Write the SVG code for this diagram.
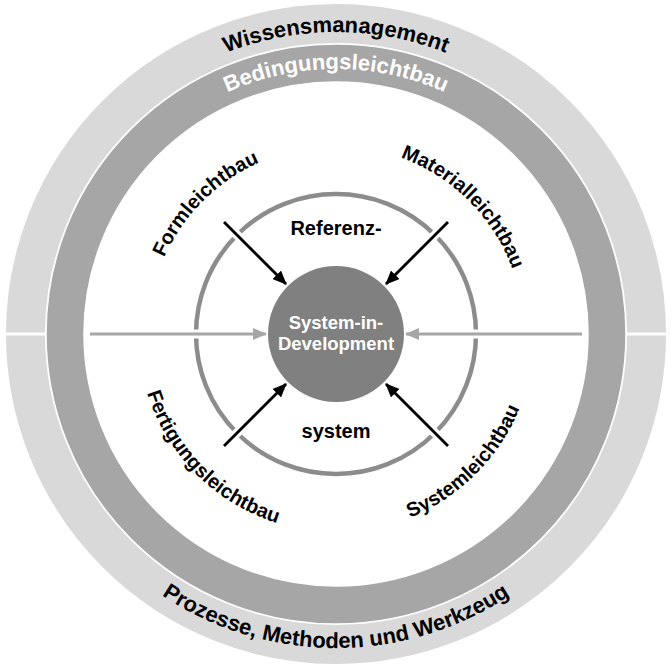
<svg xmlns="http://www.w3.org/2000/svg" width="672" height="669" viewBox="0 0 672 669">
<style>
text{font-family:"Liberation Sans",Arial,sans-serif;font-weight:bold;}
.blk{fill:#000;}
.wht{fill:#fff;}
.ring-label{font-size:22px;}
.diag{font-size:20px;fill:#000;}
.mid{text-anchor:middle;}
.arrow-black{stroke:#000;stroke-width:2.8;fill:none;}
.arrow-gray{stroke:#a6a6a6;stroke-width:3;fill:none;}
.halo{stroke:#fff;stroke-width:9;fill:none;}
</style>
<defs>
<marker id="hb" markerUnits="userSpaceOnUse" markerWidth="14" markerHeight="12" refX="13" refY="6" orient="auto"><path d="M0,0 L14,6 L0,12 Z" fill="#000"/></marker>
<marker id="hg" markerUnits="userSpaceOnUse" markerWidth="14" markerHeight="12" refX="13" refY="6" orient="auto"><path d="M0,0 L14,6 L0,12 Z" fill="#a6a6a6"/></marker>
<path id="p-wm" d="M34,334 A302,302 0 0 1 638,334"/>
<path id="p-bed" d="M71,334 A265,265 0 0 1 601,334"/>
<path id="p-pmw" d="M22,334 A314,314 0 0 0 650,334"/>
<path id="p-form" d="M148,334 A188,188 0 0 1 336,146"/>
<path id="p-mat" d="M336,146 A188,188 0 0 1 524,334"/>
<path id="p-fert" d="M138,334 A198,198 0 0 0 336,532"/>
<path id="p-sys" d="M336,532 A198,198 0 0 0 534,334"/>
</defs>
<rect width="672" height="669" fill="#fff"/>
<g id="outer-ring">
<circle cx="336" cy="334" r="310.5" fill="none" stroke="#d9d9d9" stroke-width="39"/>
<rect x="0" y="332.5" width="47" height="3" fill="#fff"/>
<rect x="625" y="332.5" width="47" height="3" fill="#fff"/>
<text class="ring-label blk mid"><textPath href="#p-wm" startOffset="50%">Wissensmanagement</textPath></text>
<text class="ring-label blk mid"><textPath href="#p-pmw" startOffset="50%">Prozesse, Methoden und Werkzeug</textPath></text>
</g>
<g id="inner-ring">
<circle cx="336" cy="334" r="271" fill="none" stroke="#a6a6a6" stroke-width="36.5"/>
<text class="ring-label wht mid"><textPath href="#p-bed" startOffset="50%">Bedingungsleichtbau</textPath></text>
</g>
<g id="reference-system">
<circle cx="336" cy="334" r="140" fill="none" stroke="#8c8c8c" stroke-width="4.5"/>
<text class="mid blk" x="336" y="235" font-size="20">Referenz-</text>
<text class="mid blk" x="336" y="438" font-size="20">system</text>
</g>
<g id="label-form"><text class="diag mid"><textPath href="#p-form" startOffset="50%">Formleichtbau</textPath></text></g>
<g id="label-material"><text class="diag mid"><textPath href="#p-mat" startOffset="50%">Materialleichtbau</textPath></text></g>
<g id="label-fertigung"><text class="diag mid"><textPath href="#p-fert" startOffset="50%">Fertigungsleichtbau</textPath></text></g>
<g id="label-system"><text class="diag mid"><textPath href="#p-sys" startOffset="50%">Systemleichtbau</textPath></text></g>
<g id="connectors">
<line class="halo" x1="90" y1="334" x2="240" y2="334"/>
<line class="halo" x1="582" y1="334" x2="432" y2="334"/>
<line class="halo" x1="224" y1="222" x2="262" y2="260"/>
<line class="halo" x1="448" y1="222" x2="410" y2="260"/>
<line class="halo" x1="224" y1="446" x2="262" y2="408"/>
<line class="halo" x1="448" y1="446" x2="410" y2="408"/>
<line class="arrow-gray" x1="90" y1="334" x2="266" y2="334" marker-end="url(#hg)"/>
<line class="arrow-gray" x1="582" y1="334" x2="406" y2="334" marker-end="url(#hg)"/>
<line class="arrow-black" x1="224" y1="222" x2="286" y2="284" marker-end="url(#hb)"/>
<line class="arrow-black" x1="448" y1="222" x2="386" y2="284" marker-end="url(#hb)"/>
<line class="arrow-black" x1="224" y1="446" x2="286" y2="384" marker-end="url(#hb)"/>
<line class="arrow-black" x1="448" y1="446" x2="386" y2="384" marker-end="url(#hb)"/>
</g>
<g id="system-in-development">
<circle cx="336" cy="334" r="68" fill="#808080"/>
<text class="mid wht" x="336" y="329" font-size="18.5">System-in-</text>
<text class="mid wht" x="336" y="350" font-size="18.5">Development</text>
</g>
</svg>
